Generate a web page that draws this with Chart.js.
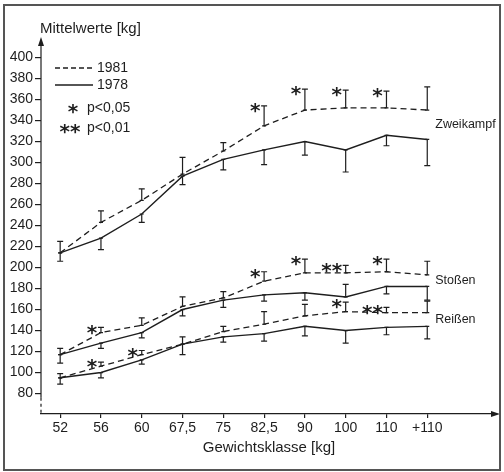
<!DOCTYPE html>
<html>
<head>
<meta charset="utf-8">
<script src="https://cdn.jsdelivr.net/npm/chart.js@4.4.0/dist/chart.umd.min.js"></script>
<style>
  html, body { margin: 0; padding: 0; background: #fff; }
</style>
</head>
<body>
<canvas id="myChart" width="504" height="472"></canvas>
<script>
// Gewichtsklassen (x-Achse)
const klassen = ['52', '56', '60', '67,5', '75', '82,5', '90', '100', '110', '+110']
const yTicks = [80, 100, 120, 140, 160, 180, 200, 220, 240, 260, 280, 300, 320, 340, 360, 380, 400]

// Zweikampf
const zweikampf1981 = [214, 243, 264, 289, 311, 335, 350, 352, 352, 350]
const zweikampf1978 = [214, 228, 251, 287, 303, 312, 320, 312, 326, 322]
const zweikampfErr1981 = [11, 11, 11, 16, 8, 19, 20, 17, 16, 22]
const zweikampfErr1978 = [-8, -11, -8, -8, -10, -14, -13, -21, -10, -25]
const zweikampfSig = ['', '', '', '', '', '*', '*', '*', '*', '']

// Stoßen
const stossen1981 = [117, 138, 145, 163, 171, 187, 195, 195, 196, 193]
const stossen1978 = [117, 128, 138, 160, 169, 174, 176, 172, 182, 182]
const stossenErr1981 = [6, 5, 7, 9, 6, 9, 13, 7, 12, 13]
const stossenErr1978 = [-8, -5, -5, -6, -7, -6, -7, 12, -7, -13]
const stossenSig = ['', '*', '', '', '', '*', '*', '**', '*', '']

// Reißen
const reissen1981 = [95, 106, 117, 127, 139, 146, 154, 158, 157, 157]
const reissen1978 = [95, 100, 112, 127, 134, 137, 144, 140, 143, 144]
const reissenErr1981 = [4, 4, 4, 7, 5, 12, 11, 9, 5, 11]
const reissenErr1978 = [-6, -5, -4, -10, -5, -7, -9, -12, -7, -12]
const reissenSig = ['', '*', '*', '', '', '', '', '*', '**', '']

const gruppen = [
    { name: 'Zweikampf', m81: zweikampf1981, m78: zweikampf1978, e81: zweikampfErr1981, e78: zweikampfErr1978, sig: zweikampfSig },
    { name: 'Stoßen', m81: stossen1981, m78: stossen1978, e81: stossenErr1981, e78: stossenErr1978, sig: stossenSig },
    { name: 'Reißen', m81: reissen1981, m78: reissen1978, e81: reissenErr1981, e78: reissenErr1978, sig: reissenSig }
]

const INK = '#1e1e1e'
const FONT = '"Liberation Sans", Arial, sans-serif'
Chart.defaults.font.family = FONT
Chart.defaults.color = INK

const toPoints = (arr) => arr.map((v, i) => ({ x: i, y: v }))

const datasets = []
gruppen.forEach((g) => {
    datasets.push({ label: g.name + ' 1981', data: toPoints(g.m81), borderColor: INK, borderWidth: 1.3, borderDash: [6, 4], pointRadius: 0, tension: 0 })
    datasets.push({ label: g.name + ' 1978', data: toPoints(g.m78), borderColor: INK, borderWidth: 1.4, pointRadius: 0, tension: 0 })
})

// Sternchen zeichnen
const stern = (ctx, txt, cx, cy) => {
    ctx.save()
    ctx.font = 'bold 20px "DejaVu Sans"'
    ctx.textAlign = 'center'
    ctx.textBaseline = 'middle'
    ctx.fillStyle = INK
    ctx.fillText(txt, cx, cy + 5)
    ctx.restore()
}

const deko = {
    id: 'deko',
    afterDatasetsDraw(chart) {
        const ctx = chart.ctx
        const xs = chart.scales.x
        const ys = chart.scales.y
        const area = chart.chartArea

        ctx.save()
        ctx.strokeStyle = INK
        ctx.fillStyle = INK
        ctx.lineWidth = 1.2

        const bar = (i, m, e) => {
            const px = xs.getPixelForValue(i)
            const y0 = ys.getPixelForValue(m)
            const y1 = ys.getPixelForValue(m + e)
            ctx.beginPath()
            ctx.moveTo(px, y0); ctx.lineTo(px, y1)
            ctx.moveTo(px - 3, y1); ctx.lineTo(px + 3, y1)
            ctx.moveTo(px - 2, y0); ctx.lineTo(px + 2, y0)
            ctx.stroke()
        }

        gruppen.forEach((g) => {
            for (let i = 0; i < klassen.length; i++) {
                bar(i, g.m81[i], g.e81[i])
                bar(i, g.m78[i], g.e78[i])
                if (g.sig[i]) {
                    const px = xs.getPixelForValue(i)
                    const top = ys.getPixelForValue(g.m81[i] + g.e81[i])
                    stern(ctx, g.sig[i], px - (g.sig[i].length > 1 ? 14 : 9), top + 1)
                }
            }
            // Beschriftung am Ende der Kurven
            const last = klassen.length - 1
            const lx = xs.getPixelForValue(last) + 8
            const ly = ys.getPixelForValue((g.m81[last] + g.m78[last]) / 2)
            ctx.font = '12.5px ' + FONT
            ctx.textAlign = 'left'
            ctx.textBaseline = 'middle'
            ctx.fillText(g.name, lx, ly)
        })

        // y-Achse mit Unterbrechung unten
        const yBreak = ys.getPixelForValue(76)
        ctx.beginPath()
        ctx.moveTo(area.left, area.top); ctx.lineTo(area.left, yBreak)
        ctx.stroke()
        ctx.setLineDash([3, 3])
        ctx.beginPath()
        ctx.moveTo(area.left, yBreak); ctx.lineTo(area.left, area.bottom)
        ctx.stroke()
        ctx.setLineDash([])

        // Pfeile
        ctx.beginPath()
        ctx.moveTo(area.left, area.top - 3)
        ctx.lineTo(area.left - 3, area.top + 6)
        ctx.lineTo(area.left + 3, area.top + 6)
        ctx.closePath(); ctx.fill()
        ctx.beginPath()
        ctx.moveTo(area.right + 3, area.bottom)
        ctx.lineTo(area.right - 6, area.bottom - 3)
        ctx.lineTo(area.right - 6, area.bottom + 3)
        ctx.closePath(); ctx.fill()

        // Achsentitel oben
        ctx.font = '15px ' + FONT
        ctx.textAlign = 'left'
        ctx.textBaseline = 'middle'
        ctx.fillText('Mittelwerte [kg]', 40, 29)

        // Legende
        ctx.lineWidth = 1.3
        ctx.setLineDash([5, 3])
        ctx.beginPath(); ctx.moveTo(55, 68); ctx.lineTo(93, 68); ctx.stroke()
        ctx.setLineDash([])
        ctx.beginPath(); ctx.moveTo(55, 85); ctx.lineTo(93, 85); ctx.stroke()
        ctx.font = '14px ' + FONT
        ctx.fillText('1981', 97, 68)
        ctx.fillText('1978', 97, 85)
        ctx.fillText('p<0,05', 87, 108)
        ctx.fillText('p<0,01', 87, 128)
        stern(ctx, '*', 73, 108)
        stern(ctx, '**', 70, 128)

        // Rahmen
        ctx.strokeStyle = '#555'
        ctx.lineWidth = 2
        ctx.strokeRect(4, 5, 496, 465)
        ctx.restore()
    }
}

const config = {
    type: 'line',
    data: { datasets: datasets },
    options: {
        responsive: false,
        animation: false,
        events: [],
        layout: { padding: { left: 0, top: 40, right: 7, bottom: 0 } },
        plugins: { legend: { display: false }, tooltip: { enabled: false } },
        scales: {
            x: {
                type: 'linear',
                min: -0.47,
                max: 10.71,
                afterBuildTicks: (s) => { s.ticks = klassen.map((k, i) => ({ value: i })) },
                afterFit: (s) => { s.height = 58 },
                ticks: { callback: (v) => klassen[v], autoSkip: false, maxRotation: 0, padding: 2, font: { size: 14 }, color: INK },
                grid: { drawOnChartArea: false, tickLength: 4, color: INK, lineWidth: 1.2 },
                border: { display: true, color: INK, width: 1.2 },
                title: { display: true, text: 'Gewichtsklasse [kg]', font: { size: 15 }, color: INK, padding: { top: 0, bottom: 15 } }
            },
            y: {
                type: 'linear',
                min: 60.5,
                max: 416.7,
                afterBuildTicks: (s) => { s.ticks = yTicks.map((v) => ({ value: v })) },
                afterFit: (s) => { s.width = 41 },
                ticks: { padding: 2, font: { size: 14 }, color: INK },
                grid: { drawOnChartArea: false, tickLength: 6, color: INK, lineWidth: 1.2 },
                border: { display: false }
            }
        }
    },
    plugins: [deko]
}

const myChart = new Chart(document.getElementById('myChart'), config)
</script>
</body>
</html>
